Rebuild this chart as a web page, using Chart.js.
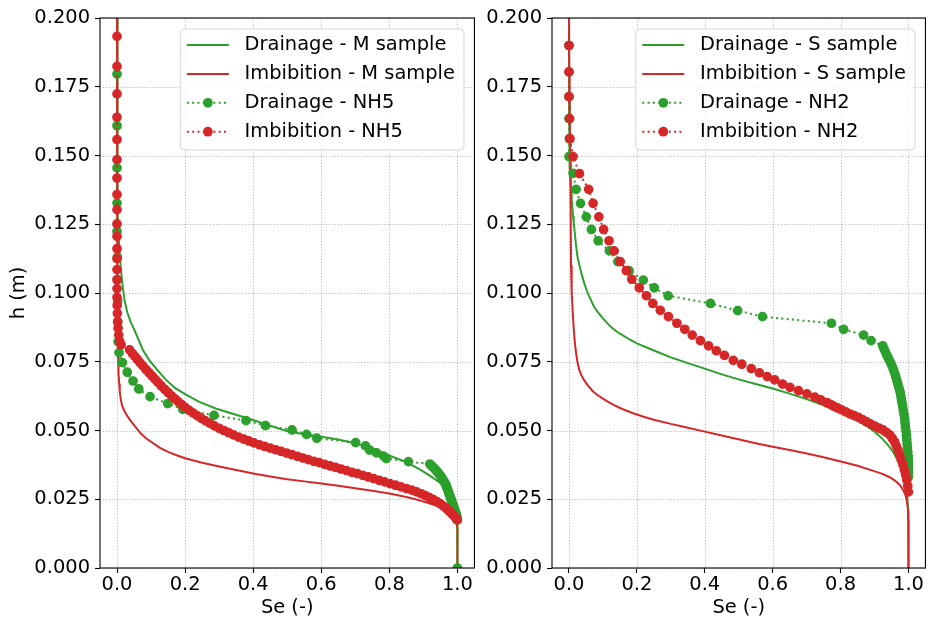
<!DOCTYPE html>
<html>
<head>
<meta charset="utf-8">
<script src="https://cdn.jsdelivr.net/npm/chart.js@4/dist/chart.umd.min.js"></script>
<style>
  html, body { margin: 0; padding: 0; background: #fff; }
  #wrap { position: relative; width: 931px; height: 620px; overflow: hidden; }
  canvas { position: absolute; top: 0; }
  #cL { left: 0; }
  #cR { left: 480px; }
</style>
</head>
<body>
<div id="wrap">
  <canvas id="cL" width="480" height="620"></canvas>
  <canvas id="cR" width="451" height="620"></canvas>
</div>
<script>
// Tick labels shared by both panels
const seTickLabels = ['0.0', '0.2', '0.4', '0.6', '0.8', '1.0'];
const hTickLabels = ['0.000', '0.025', '0.050', '0.075', '0.100', '0.125', '0.150', '0.175', '0.200'];

// ---- Left panel: M sample model curves and NH5 measurements, [Se, h] ----
const drainageM = [
  [0, 0.21], [0.0005, 0.16], [0.001, 0.14], [0.002, 0.13], [0.004, 0.123], [0.007, 0.116],
  [0.011, 0.109], [0.016, 0.103], [0.022, 0.0975], [0.03, 0.093], [0.04, 0.0895], [0.047, 0.0877],
  [0.06, 0.084], [0.076, 0.0793], [0.095, 0.0755], [0.12, 0.0718], [0.144, 0.0684], [0.17, 0.0655],
  [0.2, 0.0632], [0.24, 0.0605], [0.29, 0.058], [0.34, 0.0561], [0.4, 0.0538], [0.45, 0.0517],
  [0.504, 0.0496], [0.55, 0.0486], [0.6, 0.0477], [0.65, 0.0467], [0.7, 0.0454], [0.75, 0.0434],
  [0.796, 0.0411], [0.85, 0.0385], [0.893, 0.0356], [0.92, 0.0335], [0.951, 0.0308], [0.97, 0.028],
  [0.985, 0.0247], [0.995, 0.022], [1.0, 0.02], [1.0, 0]
];
const imbibitionM = [
  [0, 0.21], [0.0003, 0.15], [0.0006, 0.12], [0.001, 0.1], [0.0015, 0.09], [0.002, 0.085],
  [0.003, 0.078], [0.004, 0.074], [0.005, 0.0705], [0.0065, 0.067], [0.008, 0.0643], [0.01, 0.0622],
  [0.012, 0.0607], [0.015, 0.059], [0.019, 0.0578], [0.023, 0.0568], [0.03, 0.0553], [0.04, 0.0535],
  [0.05, 0.052], [0.06, 0.0504], [0.07, 0.0489], [0.085, 0.0472], [0.1, 0.0459], [0.125, 0.0438],
  [0.15, 0.0422], [0.175, 0.041], [0.2, 0.0399], [0.25, 0.0383], [0.3, 0.0369], [0.35, 0.0356],
  [0.4, 0.0344], [0.45, 0.0333], [0.5, 0.0323], [0.55, 0.0315], [0.6, 0.0307], [0.65, 0.0299],
  [0.7, 0.029], [0.75, 0.0281], [0.8, 0.0271], [0.85, 0.0258], [0.88, 0.0249], [0.91, 0.0238],
  [0.94, 0.0226], [0.96, 0.0216], [0.975, 0.0207], [0.99, 0.0193], [0.997, 0.0175], [1.0, 0.014], [1.0, 0]
];
const drainageNH5 = [
  [0, 0.21], [0, 0.1796], [0, 0.1608], [0, 0.1455], [0, 0.1327], [0, 0.1224], [0.001, 0.113],
  [0.001, 0.1048], [0.002, 0.097], [0.002, 0.0895], [0.003, 0.0823], [0.006, 0.0783], [0.016, 0.0747],
  [0.03, 0.0712], [0.047, 0.068], [0.064, 0.0651], [0.097, 0.0623], [0.149, 0.0598], [0.193, 0.0577],
  [0.285, 0.0555], [0.379, 0.0536], [0.436, 0.0518], [0.514, 0.0502], [0.557, 0.0486], [0.587, 0.0472],
  [0.701, 0.0456], [0.73, 0.0444], [0.742, 0.0429], [0.762, 0.0419], [0.783, 0.0407], [0.791, 0.0398],
  [0.856, 0.0387], [0.919, 0.0378], [0.924, 0.0372], [0.929, 0.0366], [0.934, 0.036], [0.938, 0.0354],
  [0.942, 0.0348], [0.946, 0.0342], [0.95, 0.0336], [0.953, 0.033], [0.956, 0.0324], [0.959, 0.0318],
  [0.962, 0.0312], [0.965, 0.0306], [0.967, 0.03], [0.969, 0.0293], [0.971, 0.0286], [0.973, 0.0279],
  [0.975, 0.0272], [0.977, 0.0265], [0.979, 0.0258], [0.981, 0.0251], [0.983, 0.0244], [0.985, 0.0237],
  [0.987, 0.023], [0.989, 0.0223], [0.991, 0.0216], [0.993, 0.0209], [0.995, 0.0202], [0.997, 0.0195],
  [0.998, 0.0188], [0.999, 0.0181], [1.0, 0.0174], [1.0, 0]
];
const imbibitionNH5 = [
  [0, 0.21], [0, 0.1933], [0, 0.1824], [0, 0.1724], [0, 0.1639], [0, 0.1558], [0, 0.1485],
  [0, 0.1418], [0, 0.1358], [0, 0.1303], [0, 0.1251], [0, 0.1206], [0, 0.1161], [0, 0.1125],
  [0, 0.1085], [0, 0.1048], [0, 0.1016], [0, 0.0984], [0.0005, 0.0955], [0.001, 0.0926],
  [0.002, 0.0896], [0.003, 0.0872], [0.005, 0.0847], [0.008, 0.0823], [0.012, 0.0812],
  [0.037, 0.0793], [0.045, 0.078], [0.052, 0.077], [0.06, 0.0758], [0.068, 0.0746], [0.076, 0.0735],
  [0.085, 0.0722], [0.094, 0.071], [0.103, 0.0698], [0.112, 0.0686], [0.121, 0.0674], [0.13, 0.0662],
  [0.14, 0.065], [0.15, 0.0638], [0.16, 0.0626], [0.17, 0.0615], [0.18, 0.0604], [0.19, 0.0594],
  [0.2, 0.0584], [0.212, 0.0573], [0.224, 0.0563], [0.236, 0.0553], [0.248, 0.0544], [0.26, 0.0535],
  [0.273, 0.0526], [0.286, 0.0517], [0.3, 0.0508], [0.314, 0.05], [0.328, 0.0492], [0.342, 0.0484],
  [0.357, 0.0476], [0.372, 0.0469], [0.387, 0.0462], [0.402, 0.0455], [0.418, 0.0448], [0.434, 0.0442],
  [0.45, 0.0436], [0.466, 0.043], [0.482, 0.0424], [0.498, 0.0418], [0.514, 0.0412], [0.53, 0.0406],
  [0.546, 0.04], [0.562, 0.0394], [0.578, 0.0388], [0.594, 0.0383], [0.61, 0.0377], [0.626, 0.0371],
  [0.642, 0.0366], [0.658, 0.036], [0.674, 0.0354], [0.69, 0.0348], [0.706, 0.0343], [0.722, 0.0337],
  [0.738, 0.0331], [0.754, 0.0325], [0.77, 0.0319], [0.786, 0.0313], [0.802, 0.0307], [0.818, 0.0301],
  [0.834, 0.0295], [0.85, 0.0289], [0.866, 0.0283], [0.88, 0.0277], [0.894, 0.027], [0.906, 0.0263],
  [0.918, 0.0256], [0.929, 0.0249], [0.94, 0.0241], [0.95, 0.0233], [0.959, 0.0225], [0.967, 0.0217],
  [0.974, 0.0209], [0.981, 0.0201], [0.987, 0.0194], [0.992, 0.0187], [0.996, 0.0181], [0.999, 0.0175]
];

// ---- Right panel: S sample model curves and NH2 measurements, [Se, h] ----
const drainageS = [
  [0, 0.21], [0.0005, 0.17], [0.001, 0.157], [0.002, 0.149], [0.003, 0.145], [0.004, 0.142],
  [0.006, 0.1375], [0.008, 0.134], [0.01, 0.131], [0.012, 0.128], [0.014, 0.1253], [0.017, 0.122],
  [0.021, 0.117], [0.025, 0.1132], [0.03, 0.1105], [0.036, 0.1075], [0.045, 0.1035], [0.055, 0.1],
  [0.065, 0.0973], [0.074, 0.095], [0.085, 0.093], [0.097, 0.0912], [0.11, 0.0894], [0.123, 0.0877],
  [0.14, 0.086], [0.16, 0.0845], [0.18, 0.083], [0.2, 0.0817], [0.25, 0.0791], [0.3, 0.0766],
  [0.35, 0.0745], [0.4, 0.0725], [0.45, 0.0704], [0.5, 0.0686], [0.55, 0.0669], [0.6, 0.0653],
  [0.65, 0.0634], [0.7, 0.0614], [0.746, 0.0593], [0.8, 0.0567], [0.85, 0.0537], [0.88, 0.0514],
  [0.9, 0.0496], [0.92, 0.0474], [0.94, 0.0447], [0.955, 0.0422], [0.968, 0.0393], [0.978, 0.0363],
  [0.986, 0.0331], [0.992, 0.0297], [0.996, 0.026], [0.999, 0.021], [1.0, 0.012], [1.0, 0]
];
const imbibitionS = [
  [0, 0.21], [0.001, 0.18], [0.002, 0.165], [0.004, 0.15], [0.005, 0.13], [0.006, 0.11],
  [0.008, 0.1], [0.011, 0.093], [0.014, 0.087], [0.017, 0.0825], [0.02, 0.079], [0.025, 0.0748],
  [0.03, 0.0722], [0.035, 0.0705], [0.045, 0.0682], [0.055, 0.0665], [0.07, 0.0643], [0.084, 0.0629],
  [0.1, 0.0616], [0.113, 0.0606], [0.13, 0.0594], [0.152, 0.0581], [0.17, 0.0572], [0.191, 0.0562],
  [0.22, 0.055], [0.25, 0.0539], [0.3, 0.0524], [0.337, 0.0514], [0.4, 0.0496], [0.45, 0.0482],
  [0.502, 0.0467], [0.55, 0.0454], [0.6, 0.0441], [0.65, 0.0429], [0.697, 0.0417], [0.75, 0.0403],
  [0.795, 0.0389], [0.85, 0.0372], [0.89, 0.0356], [0.921, 0.0343], [0.945, 0.033], [0.962, 0.0316],
  [0.975, 0.0301], [0.985, 0.0283], [0.991, 0.0265], [0.995, 0.0245], [0.998, 0.022], [1.0, 0.016], [1.0, 0]
];
const drainageNH2 = [
  [0, 0.21], [0, 0.19], [0, 0.1804], [0, 0.1714], [0, 0.1634], [0.001, 0.1561], [0, 0.1496],
  [0.012, 0.1435], [0.021, 0.1377], [0.034, 0.1326], [0.051, 0.1277], [0.066, 0.1231], [0.086, 0.119],
  [0.119, 0.1153], [0.144, 0.1114], [0.177, 0.1081], [0.219, 0.1047], [0.251, 0.1019], [0.292, 0.099],
  [0.417, 0.0962], [0.497, 0.0936], [0.57, 0.0914], [0.773, 0.089], [0.809, 0.0868], [0.868, 0.0847],
  [0.89, 0.0827], [0.924, 0.0808], [0.928, 0.0797], [0.932, 0.0786], [0.936, 0.0775], [0.94, 0.0765],
  [0.944, 0.0755], [0.948, 0.0745], [0.952, 0.0733], [0.956, 0.072], [0.96, 0.0707], [0.963, 0.0694],
  [0.966, 0.0681], [0.969, 0.0668], [0.972, 0.0655], [0.975, 0.0642], [0.977, 0.0628], [0.979, 0.0614],
  [0.981, 0.06], [0.983, 0.0586], [0.985, 0.0572], [0.987, 0.0557], [0.989, 0.0542], [0.99, 0.0527],
  [0.991, 0.0512], [0.993, 0.0497], [0.994, 0.0482], [0.995, 0.0467], [0.996, 0.0452], [0.997, 0.0437],
  [0.998, 0.0422], [0.999, 0.0407], [1.0, 0.0392], [1.0, 0.0377], [1.0, 0.0362], [1.0, 0.0347],
  [1.0, 0.0332]
];
const imbibitionNH2 = [
  [0, 0.21], [0, 0.19], [0, 0.1804], [0, 0.1714], [0.002, 0.1634], [0.003, 0.1561], [0.012, 0.1496],
  [0.031, 0.1434], [0.058, 0.1377], [0.071, 0.1326], [0.088, 0.1277], [0.102, 0.1231], [0.118, 0.119],
  [0.133, 0.1153], [0.151, 0.1114], [0.169, 0.1081], [0.185, 0.105], [0.207, 0.1019], [0.228, 0.099],
  [0.247, 0.0962], [0.269, 0.0937], [0.293, 0.0914], [0.318, 0.089], [0.341, 0.0868], [0.363, 0.0847],
  [0.387, 0.0827], [0.411, 0.0808], [0.434, 0.079], [0.458, 0.0773], [0.484, 0.0755], [0.509, 0.0741],
  [0.537, 0.0725], [0.561, 0.071], [0.584, 0.0696], [0.606, 0.0684], [0.629, 0.0669], [0.651, 0.0657],
  [0.676, 0.0645], [0.701, 0.0633], [0.724, 0.0621], [0.742, 0.0611], [0.76, 0.0601], [0.77, 0.0595],
  [0.779, 0.0589], [0.791, 0.0582], [0.803, 0.0575], [0.815, 0.0568], [0.828, 0.056], [0.84, 0.0554],
  [0.852, 0.0548], [0.864, 0.054], [0.876, 0.0532], [0.888, 0.0524], [0.901, 0.0516], [0.913, 0.0509],
  [0.925, 0.0502], [0.935, 0.0493], [0.945, 0.0484], [0.952, 0.0472], [0.959, 0.0459], [0.964, 0.0444],
  [0.969, 0.0429], [0.974, 0.0411], [0.979, 0.0393], [0.984, 0.0375], [0.988, 0.0356], [0.992, 0.0338],
  [0.995, 0.032], [0.998, 0.0298], [1.0, 0.0277]
];

const GREEN = '#2ca02c';
const RED = '#d62728';
const FONT = 'DejaVu Sans';
const FS = 19.44;

const toXY = arr => arr.map(p => ({ x: p[0], y: p[1] }));

function modelSet(label, arr, color, idx) {
  return {
    label, data: toXY(arr), showLine: true, borderColor: color, backgroundColor: color,
    borderWidth: 2, pointRadius: 0, pointHoverRadius: 0, tension: 0, clip: 0, order: 10 - idx
  };
}
function measuredSet(label, arr, color, idx) {
  return {
    label, data: toXY(arr), showLine: true, borderColor: color, backgroundColor: color,
    borderWidth: 2, borderDash: [2, 3.3], pointRadius: 4.17, pointBorderWidth: 1.39,
    pointBackgroundColor: color, pointBorderColor: color, pointHoverRadius: 4.17,
    tension: 0, clip: 0, order: 10 - idx
  };
}

// Dotted background grid at the tick positions
const gridPlugin = {
  id: 'dotGrid',
  beforeDatasetsDraw(chart) {
    const { ctx, chartArea: a, scales: { x, y } } = chart;
    ctx.save();
    ctx.strokeStyle = 'rgba(176,176,176,0.9)';
    ctx.lineWidth = 1;
    ctx.setLineDash([1.1, 1.8]);
    x.ticks.forEach(t => {
      const px = Math.round(x.getPixelForValue(t.value)) + 0.5;
      ctx.beginPath(); ctx.moveTo(px, a.top); ctx.lineTo(px, a.bottom); ctx.stroke();
    });
    y.ticks.forEach(t => {
      const py = Math.round(y.getPixelForValue(t.value)) + 0.5;
      ctx.beginPath(); ctx.moveTo(a.left, py); ctx.lineTo(a.right, py); ctx.stroke();
    });
    ctx.restore();
  }
};

// Axes frame and the boxed legend in the upper right corner
const framePlugin = {
  id: 'frameLegend',
  afterDraw(chart) {
    const { ctx, chartArea: a } = chart;
    ctx.save();
    ctx.strokeStyle = '#000';
    ctx.lineWidth = 1.1;
    ctx.setLineDash([]);
    ctx.strokeRect(a.left, a.top, a.right - a.left, a.bottom - a.top);

    const items = chart.data.datasets;
    ctx.font = FS + 'px "' + FONT + '"';
    const textW = Math.max(...items.map(d => ctx.measureText(d.label).width));
    const w = 6.5 + 42 + 15.7 + textW + 9;
    const h = 121;
    const x0 = a.right - 10.5 - w;
    const y0 = a.top + 11;
    ctx.beginPath();
    ctx.roundRect(x0, y0, w, h, 4);
    ctx.fillStyle = 'rgba(255,255,255,0.8)';
    ctx.fill();
    ctx.strokeStyle = 'rgba(204,204,204,0.8)';
    ctx.lineWidth = 1;
    ctx.stroke();

    items.forEach((d, i) => {
      const cy = y0 + 16 + i * 28.9;
      const hx0 = x0 + 6.5, hx1 = hx0 + 42;
      ctx.strokeStyle = d.borderColor;
      ctx.lineWidth = d.borderWidth;
      ctx.setLineDash(d.borderDash || []);
      ctx.beginPath(); ctx.moveTo(hx0, cy); ctx.lineTo(hx1, cy); ctx.stroke();
      ctx.setLineDash([]);
      if (d.pointRadius > 0) {
        ctx.fillStyle = d.pointBackgroundColor;
        ctx.beginPath();
        ctx.arc((hx0 + hx1) / 2, cy, d.pointRadius + d.pointBorderWidth / 2, 0, Math.PI * 2);
        ctx.fill();
      }
      ctx.fillStyle = '#000';
      ctx.textBaseline = 'middle';
      ctx.textAlign = 'left';
      ctx.fillText(d.label, hx1 + 15.7, cy);
    });
    ctx.restore();
  }
};

function makeChart(canvasId, sets, opts) {
  const tickFont = { family: FONT, size: FS };
  return new Chart(document.getElementById(canvasId), {
    type: 'scatter',
    data: { datasets: sets },
    options: {
      responsive: false, animation: false, devicePixelRatio: 1, events: [],
      layout: { padding: { top: 18, right: opts.padRight, left: 0, bottom: 0 } },
      plugins: { legend: { display: false }, tooltip: { enabled: false } },
      scales: {
        x: {
          type: 'linear', min: -0.05, max: 1.05,
          afterBuildTicks: s => { s.ticks = seTickLabels.map(v => ({ value: parseFloat(v) })); },
          afterFit: s => { s.height = 52; },
          ticks: { font: tickFont, color: '#000', padding: 0,
                   callback: v => seTickLabels.find(l => Math.abs(parseFloat(l) - v) < 1e-9) },
          grid: { drawOnChartArea: false, drawTicks: true, tickLength: 5, tickColor: '#000', tickWidth: 1.1 },
          border: { display: false },
          title: { display: true, text: 'Se (-)', font: tickFont, color: '#000', padding: { top: 0, bottom: 0 } }
        },
        y: {
          type: 'linear', min: 0, max: 0.2,
          afterBuildTicks: s => { s.ticks = hTickLabels.map(v => ({ value: parseFloat(v) })); },
          afterFit: s => { s.width = opts.yWidth; },
          ticks: { font: tickFont, color: '#000', padding: 5,
                   callback: v => hTickLabels.find(l => Math.abs(parseFloat(l) - v) < 1e-9) },
          grid: { drawOnChartArea: false, drawTicks: true, tickLength: 5, tickColor: '#000', tickWidth: 1.1 },
          border: { display: false },
          title: { display: opts.yTitle, text: 'h (m)', font: tickFont, color: '#000', padding: { top: 7, bottom: 0 } }
        }
      }
    },
    plugins: [gridPlugin, framePlugin]
  });
}

makeChart('cL', [
  modelSet('Drainage - M sample', drainageM, GREEN, 0),
  modelSet('Imbibition - M sample', imbibitionM, RED, 1),
  measuredSet('Drainage - NH5', drainageNH5, GREEN, 2),
  measuredSet('Imbibition - NH5', imbibitionNH5, RED, 3)
], { padRight: 3, yWidth: 100, yTitle: true });

makeChart('cR', [
  modelSet('Drainage - S sample', drainageS, GREEN, 0),
  modelSet('Imbibition - S sample', imbibitionS, RED, 1),
  measuredSet('Drainage - NH2', drainageNH2, GREEN, 2),
  measuredSet('Imbibition - NH2', imbibitionNH2, RED, 3)
], { padRight: 1, yWidth: 72, yTitle: false });
</script>
</body>
</html>
